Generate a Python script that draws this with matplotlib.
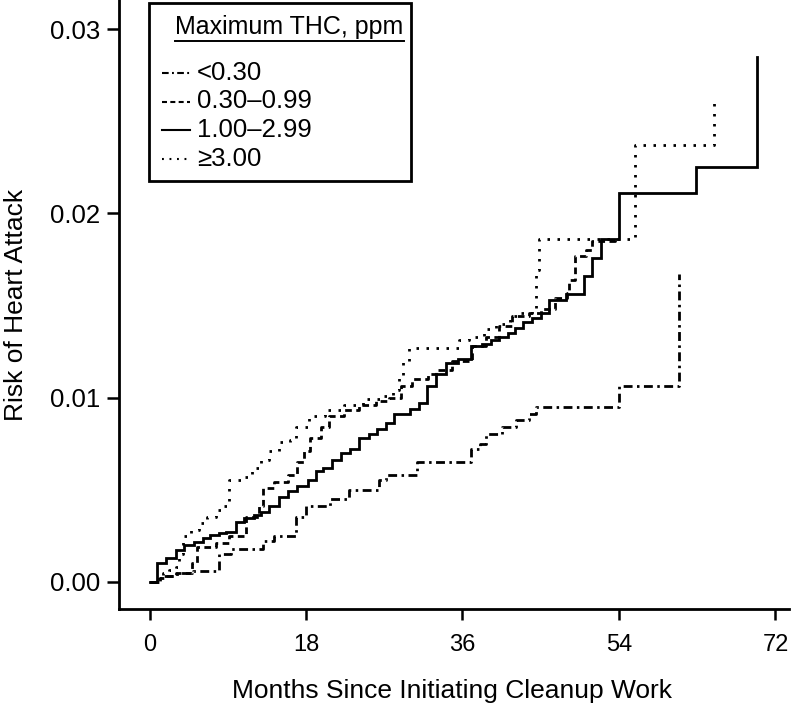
import matplotlib
matplotlib.use("Agg")
import matplotlib.pyplot as plt
from matplotlib.lines import Line2D
from matplotlib.patches import Rectangle

plt.rcParams['font.family'] = ['Liberation Sans', 'DejaVu Sans']

# Cumulative risk step curves (months, risk)
labels = ['<0.30', '0.30–0.99', '1.00–2.99', '≥3.00']

months_lt030 = [0, 1.2, 1.7, 3.2, 5.0, 8.0, 9.4, 13.0, 14.3, 16.8, 18.0, 20.8, 23.0,
                26.4, 27.2, 30.8, 37.0, 38.0, 38.7, 40.5, 42.1, 43.7, 44.4, 54.0, 60.9]
risk_lt030 = [0, 0.0002, 0.0003, 0.0005, 0.0006, 0.0015, 0.0018, 0.0022, 0.0025, 0.0035,
              0.0041, 0.0045, 0.0050, 0.0055, 0.0058, 0.0065, 0.0072, 0.0075, 0.0080,
              0.0084, 0.0088, 0.0091, 0.0095, 0.0106, 0.0167]

months_030 = [0, 1.2, 1.7, 3.0, 4.9, 5.5, 7.6, 9.1, 11.1, 12.6, 13.0, 14.3, 15.9, 17.0,
              17.8, 18.5, 19.7, 20.6, 22.4, 24.1, 26.0, 27.5, 28.9, 30.2, 32.0, 33.0,
              34.8, 37.1, 38.7, 40.2, 41.7, 43.6, 45.0, 46.7, 48.0, 48.3, 49.0, 50.2,
              50.9, 53.6]
risk_030 = [0, 0.0002, 0.0003, 0.0005, 0.0010, 0.0019, 0.0021, 0.0025, 0.0035, 0.0041,
            0.0051, 0.0054, 0.0058, 0.0065, 0.0071, 0.0078, 0.0084, 0.0090, 0.0093,
            0.0096, 0.0098, 0.0100, 0.0106, 0.0110, 0.0113, 0.0115, 0.0120, 0.0128,
            0.0133, 0.0139, 0.0144, 0.0146, 0.0148, 0.0154, 0.0157, 0.0164, 0.0177,
            0.0180, 0.0185, 0.0186]

months_100 = [0, 0.9, 1.9, 3.0, 4.0, 5.1, 6.1, 7.0, 8.0, 8.8, 9.9, 10.9, 12.0, 12.8,
              13.7, 14.9, 15.9, 17.0, 18.2, 19.1, 19.9, 21.0, 22.0, 23.1, 24.1, 25.2,
              26.2, 27.2, 28.1, 30.0, 31.0, 31.9, 33.0, 34.1, 35.5, 37.0, 38.3, 39.3,
              40.2, 41.2, 42.0, 43.0, 44.0, 45.0, 46.0, 47.9, 50.0, 50.9, 51.9, 54.0,
              62.9, 69.9]
risk_100 = [0, 0.0010, 0.00127, 0.00173, 0.0020, 0.00218, 0.00237, 0.00255, 0.00264,
            0.00272, 0.00327, 0.00346, 0.00364, 0.0038, 0.0041, 0.0046, 0.0049, 0.0052,
            0.0055, 0.0060, 0.0062, 0.0066, 0.0070, 0.0072, 0.0078, 0.0080, 0.0083,
            0.0086, 0.0091, 0.0094, 0.0097, 0.0106, 0.0113, 0.0119, 0.0121, 0.0128,
            0.0129, 0.0131, 0.0133, 0.0135, 0.0138, 0.0141, 0.0143, 0.0146, 0.0153,
            0.0156, 0.0166, 0.0176, 0.0186, 0.0211, 0.0225, 0.0285]

months_300 = [0, 1.0, 1.6, 2.2, 3.0, 3.4, 3.8, 4.8, 5.7, 6.6, 7.6, 8.6, 9.1, 10.5, 11.8,
              12.8, 13.7, 14.9, 16.2, 16.8, 18.3, 20.2, 22.4, 24.5, 26.5, 28.0, 28.7,
              29.2, 29.9, 35.6, 36.8, 38.5, 39.8, 41.5, 42.5, 44.0, 44.4, 44.8, 55.9,
              64.9]
risk_300 = [0, 0.0003, 0.0005, 0.00064, 0.0008, 0.0015, 0.0025, 0.0028, 0.0032, 0.0035,
            0.0039, 0.0041, 0.0055, 0.0057, 0.0062, 0.0066, 0.0071, 0.0076, 0.0077,
            0.0084, 0.0090, 0.0093, 0.0096, 0.0099, 0.0101, 0.0104, 0.0112, 0.0120,
            0.0127, 0.0131, 0.0133, 0.0137, 0.0140, 0.0144, 0.0146, 0.0148, 0.0169,
            0.0186, 0.0237, 0.0261]

x_ticks = [0, 18, 36, 54, 72]
y_ticks = [0.00, 0.01, 0.02, 0.03]

series = [(months_lt030, risk_lt030), (months_030, risk_030),
          (months_100, risk_100), (months_300, risk_300)]
styles = [(0, (3.2, 1.6, 0.9, 1.6)), (0, (2.4, 1.6)), '-', (0, (0.9, 2.7))]
lw = 2.0

W, H = 791, 707
fig = plt.figure(figsize=(W / 100, H / 100), dpi=100)
ax = fig.add_axes([119 / W, 1 - 609 / H, (789 - 119) / W, 609 / H])

for (t, r), ls in zip(series, styles):
    ax.step(t, r, where='post', color='black', lw=lw, ls=ls,
            dash_capstyle='butt', solid_joinstyle='miter')

ax.set_xlim(-3.51, 73.56)
ax.set_ylim(-0.00148, 0.03158)
ax.set_xticks(x_ticks)
ax.set_yticks(y_ticks)
ax.set_xticklabels([str(v) for v in x_ticks], fontsize=17)
ax.set_yticklabels([f'{v:.2f}' for v in y_ticks], fontsize=18.5)
ax.tick_params(axis='x', length=8, width=1.8, pad=10)
ax.tick_params(axis='y', length=8.5, width=1.8, pad=5)
for s in ['top', 'right']:
    ax.spines[s].set_visible(False)
for s in ['left', 'bottom']:
    ax.spines[s].set_linewidth(2.0)

fig.text(452 / W, 1 - 691 / H, 'Months Since Initiating Cleanup Work',
         ha='center', va='center', fontsize=19)
fig.text(16 / W, 1 - 305 / H, 'Risk of Heart Attack', rotation=90,
         ha='center', va='center', fontsize=19)

# legend box drawn by hand, with underlined title
def fp(x, y):
    return x / W, 1 - y / H

x0, y0 = fp(149, 181)
x1, y1 = fp(411, 3)
fig.add_artist(Rectangle((x0, y0), x1 - x0, y1 - y0, transform=fig.transFigure,
                         fill=False, lw=2.0, edgecolor='black'))
fig.text(*fp(175, 27), 'Maximum THC, ppm', ha='left', va='center', fontsize=18)
fig.add_artist(Line2D([175 / W, 404 / W], [1 - 41 / H] * 2, transform=fig.transFigure,
                      color='black', lw=1.4))
for i, (lab, ls) in enumerate(zip(labels, styles)):
    yy = 73 + 28.5 * i
    fig.add_artist(Line2D([162 / W, 190 / W], [1 - yy / H] * 2, transform=fig.transFigure,
                          color='black', lw=1.5, ls=ls, dash_capstyle='butt'))
    fig.text(*fp(197, yy), lab, ha='left', va='center', fontsize=18.5)

fig.savefig('out.png', dpi=100)
